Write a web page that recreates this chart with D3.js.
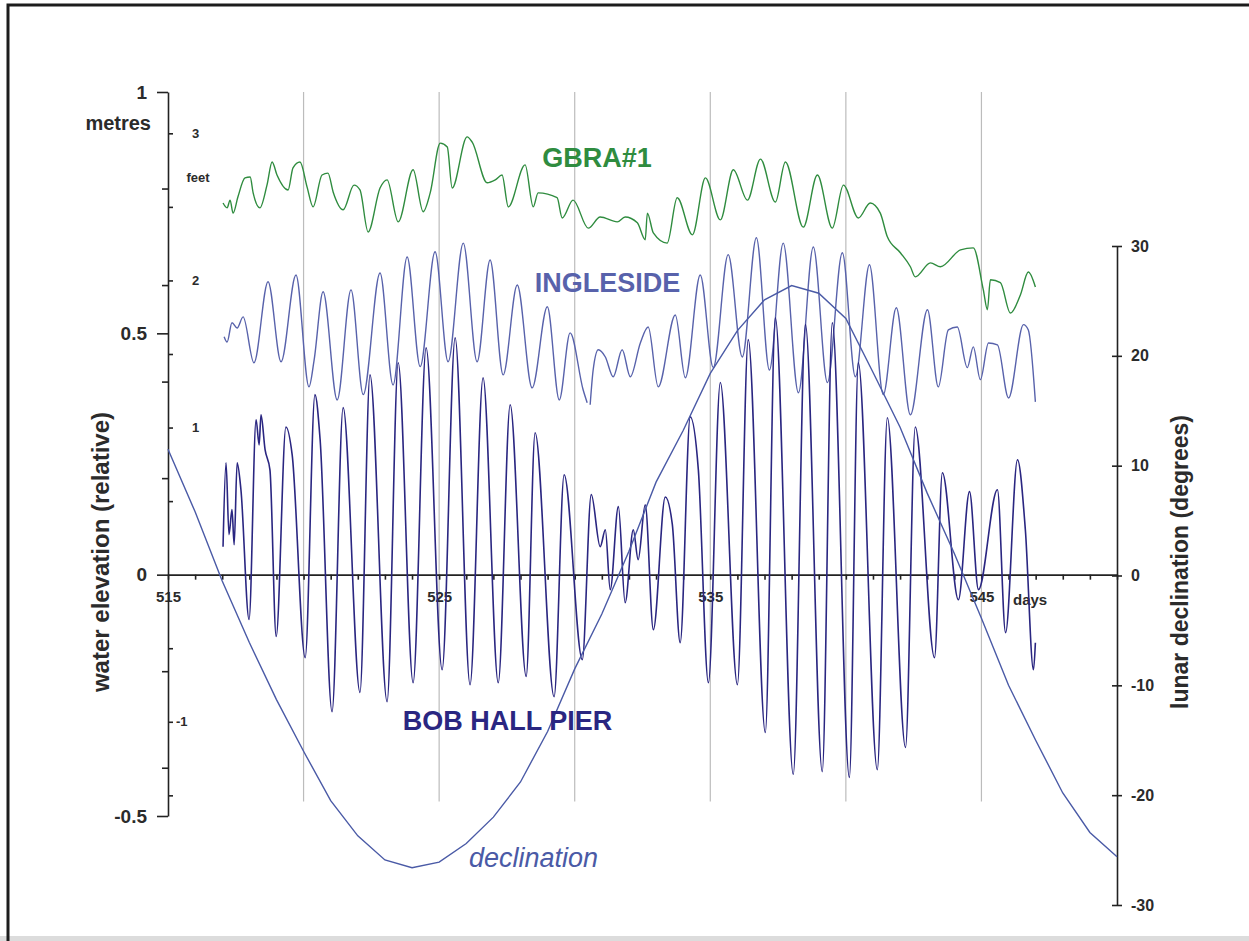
<!DOCTYPE html>
<html>
<head>
<meta charset="utf-8">
<script src="https://cdn.jsdelivr.net/npm/d3@7"></script>
<style>
  body { margin:0; background:#fff; }
  svg { display:block; font-family:"Liberation Sans", Arial, sans-serif; }
  .axis text { font-family:"Liberation Sans", Arial, sans-serif; font-weight:bold; fill:#2b2b2b; }
  .axis line, .axis path { stroke:#222; stroke-width:1.6; }
</style>
</head>
<body>
<div class="chart"></div>
<script>
// turning points: day number and water level in metres
const gbraDays = [517.03,517.18,517.29,517.40,517.58,517.84,518.03,518.14,518.39,518.65,518.84,519.02,519.43,519.61,519.87,520.13,520.35,520.68,520.90,521.09,521.46,521.86,522.08,522.38,522.82,523.08,523.49,524.04,524.41,524.67,525.04,525.30,525.48,526.03,526.22,526.77,527.07,527.32,527.55,528.17,528.47,528.65,529.35,529.54,529.94,530.50,530.94,531.57,531.86,532.31,532.60,532.68,532.90,533.41,533.78,534.34,534.82,535.37,535.85,536.37,536.85,537.40,537.77,538.43,538.95,539.50,539.91,540.46,540.90,541.27,541.53,542.01,542.38,542.56,543.12,543.49,544.23,544.70,545.07,545.22,545.33,545.70,546.07,546.44,546.73,546.99];
const gbraLevels = [0.770,0.760,0.776,0.749,0.783,0.822,0.824,0.791,0.760,0.807,0.855,0.828,0.797,0.843,0.855,0.803,0.762,0.828,0.832,0.793,0.756,0.807,0.797,0.710,0.801,0.818,0.731,0.839,0.752,0.791,0.894,0.886,0.801,0.907,0.896,0.812,0.818,0.828,0.762,0.849,0.762,0.791,0.781,0.739,0.776,0.718,0.741,0.731,0.741,0.729,0.694,0.749,0.708,0.687,0.781,0.704,0.822,0.735,0.839,0.776,0.861,0.772,0.855,0.720,0.828,0.718,0.807,0.739,0.770,0.749,0.700,0.667,0.638,0.617,0.646,0.638,0.673,0.677,0.590,0.549,0.611,0.605,0.542,0.580,0.627,0.596];

const inglesideDays = [517.07,517.18,517.36,517.55,517.77,518.17,518.69,519.17,519.72,520.20,520.39,520.72,521.24,521.75,522.20,522.82,523.30,523.82,524.30,524.85,525.33,525.89,526.40,526.88,527.36,527.88,528.43,528.99,529.43,529.83,530.31,530.46,530.52,530.57,530.68,530.87,531.13,531.42,531.75,532.05,532.42,532.71,533.08,533.71,534.08,534.63,535.11,535.66,536.18,536.70,537.18,537.69,538.25,538.80,539.32,539.87,540.35,540.87,541.38,541.86,542.38,543.01,543.41,543.78,544.11,544.48,544.70,544.96,545.26,545.59,546.00,546.55,546.73,546.99];
const inglesideLevels = [0.493,0.482,0.522,0.511,0.534,0.439,0.607,0.441,0.621,0.389,0.445,0.586,0.362,0.590,0.373,0.625,0.393,0.658,0.431,0.669,0.441,0.687,0.441,0.652,0.414,0.600,0.387,0.555,0.362,0.501,0.383,0.356,null,0.352,0.424,0.466,0.451,0.410,0.466,0.410,0.480,0.513,0.389,0.538,0.408,0.621,0.429,0.663,0.451,0.698,0.424,0.687,0.377,0.679,0.398,0.667,0.410,0.642,0.373,0.553,0.331,0.549,0.389,0.507,0.513,0.429,0.472,0.404,0.480,0.476,0.366,0.518,0.507,0.358];

const bobHallDays = [517.03,517.14,517.25,517.36,517.44,517.55,517.69,517.99,518.25,518.36,518.43,518.58,518.76,518.99,519.35,519.58,520.06,520.42,520.61,521.05,521.46,522.08,522.45,523.08,523.49,524.04,524.52,525.11,525.59,526.14,526.62,527.18,527.62,528.21,528.54,529.24,529.61,530.28,530.61,530.94,531.13,531.31,531.61,531.86,532.16,532.34,532.60,532.90,533.34,533.60,533.89,534.26,534.56,534.93,535.37,536.00,536.40,537.03,537.40,538.06,538.51,539.13,539.50,540.13,540.46,541.16,541.53,542.20,542.56,543.27,543.56,544.15,544.56,544.89,545.59,545.89,546.33,546.62,546.92,546.99];
const bobHallLevels = [0.058,0.232,0.083,0.135,0.062,0.232,0.176,-0.093,0.321,0.269,0.331,0.259,0.217,-0.128,0.306,0.248,-0.172,0.373,0.280,-0.284,0.346,-0.244,0.414,-0.263,0.439,-0.224,0.470,-0.197,0.491,-0.228,0.408,-0.224,0.352,-0.211,0.294,-0.253,0.207,-0.176,0.166,0.058,0.093,-0.031,0.141,-0.058,0.093,0.031,0.145,-0.114,0.161,0.104,-0.141,0.327,0.217,-0.224,0.398,-0.228,0.487,-0.327,0.532,-0.414,0.518,-0.408,0.522,-0.420,0.439,-0.404,0.325,-0.358,0.306,-0.172,0.211,-0.052,0.172,-0.031,0.176,-0.120,0.238,0.093,-0.197,-0.141];

// lunar declination, one value per day (degrees)
const declDays = [515,516,517,518,519,520,521,522,523,524,525,526,527,528,529,530,531,532,533,534,535,536,537,538,539,540,541,542,543,544,545,546,547,548,549,550];
const declValues = [11.5,5.8,-0.5,-6.1,-11.3,-16.0,-20.5,-23.7,-25.9,-26.6,-26.1,-24.4,-22.0,-18.8,-14.2,-8.5,-3.5,2.2,8.5,13.2,18.4,22.3,25.1,26.4,25.7,23.4,18.5,13.5,7.5,2.0,-3.9,-10.0,-15.0,-19.8,-23.4,-25.6];

const dayTicks = [515,516,517,518,519,520,521,522,523,524,525,526,527,528,529,530,531,532,533,534,535,536,537,538,539,540,541,542,543,544,545,546,547,548,549,550];
const dayLabels = [515,525,535,545];
const gridDays = [520,525,530,535,540,545];
const metreTicks = [-0.5,0,0.5,1];
const metreMinor = [-0.4,-0.2,0.2,0.4,0.6,0.8];
const feetMinor = [-1.5,-1,-0.5,0.5,1,1.5,2,2.5,3];
const feetLabels = [-1,1,2,3];
const declTicks = [-30,-20,-10,0,10,20,30];

const W = 1249, H = 941;
const svg = d3.select('.chart').append('svg').attr('width', W).attr('height', H);

const x = d3.scaleLinear().domain([515, 550]).range([168, 1117]);
const yM = d3.scaleLinear().domain([-0.5, 1]).range([816, 92]);
const yFt = d3.scaleLinear().domain([-0.5 / 0.3048, 1 / 0.3048]).range([816, 92]);
const yDeg = d3.scaleLinear().domain([-30, 30]).range([905, 246]);

// plain hyphen minus, as in the original figure
const plain = d => String(d);

// frame of the scanned figure
svg.append('rect').attr('x', 0).attr('y', 936).attr('width', W).attr('height', 5).attr('fill', '#dcdcdc');
svg.append('path').attr('d', `M8,${H} V5 H${W}`).attr('fill', 'none').attr('stroke', '#1c1c1c').attr('stroke-width', 3);

// vertical grid
svg.append('g').selectAll('line').data(gridDays).join('line')
  .attr('x1', d => x(d)).attr('x2', d => x(d))
  .attr('y1', yM(1)).attr('y2', yM(-0.47))
  .attr('stroke', '#bcbcbc').attr('stroke-width', 1.2);

// x axis on the zero line
const xAxis = d3.axisBottom(x).tickValues(dayTicks).tickSize(5).tickSizeOuter(0).tickPadding(12)
  .tickFormat(d => dayLabels.includes(d) ? d : '');
const gx = svg.append('g').attr('class', 'axis').attr('transform', `translate(0,${yM(0)})`).call(xAxis);
gx.selectAll('text').style('font-size', '15px');
gx.selectAll('.tick line').attr('stroke-width', 1);
gx.append('text').attr('x', 1013).attr('y', 30).attr('text-anchor', 'start')
  .style('font-size', '15px').text('days');

// left axis: metres
const gy = svg.append('g').attr('class', 'axis').attr('transform', `translate(${x(515)},0)`)
  .call(d3.axisLeft(yM).tickValues(metreTicks).tickSize(11).tickSizeOuter(0).tickPadding(10).tickFormat(plain));
gy.selectAll('text').style('font-size', '19px');
gy.append('text').attr('x', -17).attr('y', yM(0.922)).attr('text-anchor', 'end')
  .style('font-size', '20px').text('metres');

svg.append('g').attr('class', 'axis').attr('transform', `translate(${x(515)},0)`)
  .call(d3.axisLeft(yM).tickValues(metreMinor).tickSize(6).tickFormat(''))
  .select('.domain').remove();

// feet ticks on the inner side
const gf = svg.append('g').attr('class', 'axis').attr('transform', `translate(${x(515)},0)`)
  .call(d3.axisRight(yFt).tickValues(feetMinor).tickSize(5).tickFormat(''));
gf.select('.domain').remove();
gf.selectAll('.tick line').attr('stroke-width', 1.3);
gf.selectAll('.ftlabel').data(feetLabels).join('text')
  .attr('x', d => d < 0 ? 8 : 24).attr('y', d => yFt(d)).attr('dy', '0.35em')
  .attr('text-anchor', 'start').style('font-size', '13px').text(plain);
gf.append('text').attr('x', 30).attr('y', yFt(2.7)).attr('dy', '0.35em')
  .attr('text-anchor', 'middle').style('font-size', '13px').text('feet');

// right axis: lunar declination
const gr = svg.append('g').attr('class', 'axis').attr('transform', `translate(${x(550)},0)`)
  .call(d3.axisRight(yDeg).tickValues(declTicks).tickSize(5).tickSizeOuter(0).tickPadding(9).tickFormat(plain));
gr.selectAll('.tick line').attr('x1', -5);
gr.selectAll('text').style('font-size', '16px');

// axis titles
svg.append('text').attr('transform', 'translate(109,552) rotate(-90)')
  .attr('text-anchor', 'middle').style('font-size', '24px').style('font-weight', 'bold').attr('fill', '#2b2b2b')
  .text('water elevation (relative)');
svg.append('text').attr('transform', 'translate(1188,562) rotate(-90)')
  .attr('text-anchor', 'middle').style('font-size', '23px').style('font-weight', 'bold').attr('fill', '#2b2b2b')
  .text('lunar declination (degrees)');

// series
const tide = d3.line()
  .defined(d => d[1] != null)
  .x(d => x(d[0])).y(d => yM(d[1]))
  .curve(d3.curveMonotoneX);

const series = [
  { days: gbraDays, levels: gbraLevels, color: '#2f8c3f', width: 1.4 },
  { days: inglesideDays, levels: inglesideLevels, color: '#5862ab', width: 1.4 },
  { days: bobHallDays, levels: bobHallLevels, color: '#2a2681', width: 1.6 }
];

series.forEach(s => {
  svg.append('path')
    .datum(s.days.map((d, i) => [d, s.levels[i]]))
    .attr('d', tide)
    .attr('fill', 'none')
    .attr('stroke', s.color)
    .attr('stroke-width', s.width)
    .attr('stroke-linejoin', 'round');
});

const decl = d3.line().x(d => x(d[0])).y(d => yDeg(d[1]));
svg.append('path')
  .datum(declDays.map((d, i) => [d, declValues[i]]))
  .attr('d', decl)
  .attr('fill', 'none').attr('stroke', '#4a5aa6').attr('stroke-width', 1.4);

// in-plot labels
const label = (txt, dx, yy, color, italic) => svg.append('text')
  .attr('x', x(dx)).attr('y', yy).attr('text-anchor', 'middle')
  .style('font-size', '27px')
  .style('font-weight', italic ? 'normal' : 'bold')
  .style('font-style', italic ? 'italic' : 'normal')
  .attr('fill', color).text(txt);

label('GBRA#1', 530.82, yM(0.845), '#2f8c3f');
label('INGLESIDE', 531.21, yM(0.586), '#5862ab');
label('BOB HALL PIER', 527.52, yM(-0.321), '#2a2681');
label('declination', 528.48, yDeg(-26.5), '#4a5aa6', true);
</script>
</body>
</html>
